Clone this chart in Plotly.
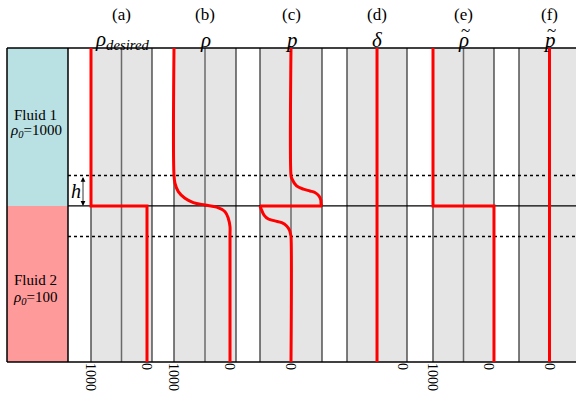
import plotly.graph_objects as go

# ---------------- data ----------------
Z_TOP, Z_BOT = 5.18, -5.12          # vertical extent (interface at 0, dotted lines at +/-h = +/-1)
H = 1.0

rho_desired_v = [1000, 1000, 0, 0]
rho_desired_z = [Z_TOP, 0.0, 0.0, Z_BOT]

rho_v = [1000, 1000, 982, 923, 804, 655, 446, 238, 89, 30, 0, 0, 0]
rho_z = [Z_TOP, 1.0, 0.74, 0.47, 0.25, 0.11, 0.03, -0.04, -0.19, -0.41, -0.68, -0.95, Z_BOT]

p_up_v = [0, 0, 0.02, 0.18, 0.40, 0.61, 0.77, 0.90, 0.96, 0.97, 1.0]
p_up_z = [Z_TOP, 1.0, 0.91, 0.66, 0.55, 0.49, 0.44, 0.33, 0.20, 0.07, 0.0]
p_mid_v = [1.0, -1.0]
p_mid_z = [0.0, 0.0]
p_lo_v = [-1.0, -0.95, -0.87, -0.73, -0.52, -0.30, -0.14, -0.05, -0.01, 0, 0]
p_lo_z = [0.0, -0.13, -0.30, -0.43, -0.49, -0.55, -0.66, -0.79, -0.95, -1.0, Z_BOT]

delta_v = [464, 464]
delta_z = [Z_TOP, Z_BOT]

rho_t_v = [1000, 1000, -89, -89]
rho_t_z = [Z_TOP, 0.0, 0.0, Z_BOT]

p_t_v = [0, 0]
p_t_z = [Z_TOP, Z_BOT]

letters = ["(a)", "(b)", "(c)", "(d)", "(e)", "(f)"]
symbols = ["<i>ρ<sub>desired</sub></i>", "<i>ρ</i>", "<i>p</i>", "<i>δ</i>",
           "<i>ρ</i>", "<i>p</i>"]
has_tilde = [False, False, False, False, True, True]
tick_vals = [[1000, 0], [1000, 0], [0], [0], [1000, 0], [0]]
tick_text = [["1000", "0"], ["1000", "0"], ["0"], ["0"], ["1000", "0"], ["0"]]

# ---------------- layout geometry (pixels) ----------------
W, HGT = 576, 397
ML, MR, MT, MB = 7, 0, 48, 35
PW = W - ML - MR
PH = HGT - MT - MB


def px(x):
    return (x - ML) / PW


def py(y):
    return (HGT - MB - y) / PH


# gray panel left/right pixel edges, value at left edge, value change per pixel
panels = [
    dict(L=91, R=152, v0=1000, dv=-1000 / 56),
    dict(L=174, R=236, v0=1000, dv=-1000 / 56),
    dict(L=260, R=322, v0=-1.0, dv=2 / 62),
    dict(L=347, R=407, v0=1000, dv=-1000 / 56),
    dict(L=433, R=494, v0=1000, dv=-1000 / 56),
    dict(L=519, R=580, v0=-1.0, dv=2 / 61),
]

series = [
    [(rho_desired_v, rho_desired_z, "linear")],
    [(rho_v, rho_z, "spline")],
    [(p_up_v, p_up_z, "spline"), (p_mid_v, p_mid_z, "linear"), (p_lo_v, p_lo_z, "spline")],
    [(delta_v, delta_z, "linear")],
    [(rho_t_v, rho_t_z, "linear")],
    [(p_t_v, p_t_z, "linear")],
]

fig = go.Figure()
SERIF = "Liberation Serif, Times New Roman, serif"
shapes = []
annotations = []
layout_axes = {}

for i, (pn, ser) in enumerate(zip(panels, series)):
    ax_name = "x" if i == 0 else f"x{i+1}"
    key = "xaxis" if i == 0 else f"xaxis{i+1}"
    dL = pn["L"] - 6
    dR = min(pn["R"] + 6, W - MR)
    rng = [pn["v0"] + (dL - pn["L"]) * pn["dv"], pn["v0"] + (dR - pn["L"]) * pn["dv"]]
    layout_axes[key] = dict(
        domain=[px(dL), px(dR)], range=rng, anchor="y",
        showgrid=False, zeroline=False, showline=False, ticks="",
        tickmode="array", tickvals=tick_vals[i], ticktext=tick_text[i],
        tickangle=90, tickfont=dict(family=SERIF, size=14, color="black"),
        fixedrange=True, automargin=False,
    )
    for v, z, shp in ser:
        fig.add_trace(go.Scatter(
            x=v, y=z, xaxis=ax_name, yaxis="y", mode="lines",
            line=dict(color="#FF0000", width=3, shape=shp, smoothing=1),
            showlegend=False, hoverinfo="skip"))

    # gray panel + its lines
    shapes.append(dict(type="rect", xref="paper", yref="paper", x0=px(pn["L"]), x1=px(min(pn["R"], W)),
                       y0=0, y1=1, fillcolor="#E5E5E5", line=dict(width=0), layer="below"))
    cx = (pn["L"] + pn["R"]) / 2
    shapes.append(dict(type="line", xref="paper", yref="paper", x0=px(cx), x1=px(cx), y0=0, y1=1,
                       line=dict(color="#6a6a6a", width=1.5), layer="below"))
    for e in (pn["L"], pn["R"]):
        if e <= W:
            shapes.append(dict(type="line", xref="paper", yref="paper", x0=px(e), x1=px(e), y0=0, y1=1,
                               line=dict(color="#3a3a3a", width=1.3), layer="below"))
    annotations.append(dict(xref="paper", yref="paper", x=px(cx), y=py(15), text=letters[i],
                            showarrow=False, font=dict(family=SERIF, size=17, color="black"),
                            xanchor="center", yanchor="middle"))
    annotations.append(dict(xref="paper", yref="paper", x=px(cx), y=py(40), text=symbols[i],
                            showarrow=False, font=dict(family=SERIF, size=21, color="black"),
                            xanchor="center", yanchor="middle"))
    if has_tilde[i]:
        annotations.append(dict(xref="paper", yref="paper", x=px(cx + 2), y=py(30), text="~",
                                showarrow=False, font=dict(family=SERIF, size=17, color="black"),
                                xanchor="center", yanchor="middle"))

# fluid boxes
shapes.append(dict(type="rect", xref="paper", yref="y", x0=px(7), x1=px(68), y0=0, y1=Z_TOP,
                   fillcolor="#B9E0E2", line=dict(width=0), layer="below"))
shapes.append(dict(type="rect", xref="paper", yref="y", x0=px(7), x1=px(68), y0=Z_BOT, y1=0,
                   fillcolor="#FF9A9A", line=dict(width=0), layer="below"))
for xx in (7, 68):
    shapes.append(dict(type="line", xref="paper", yref="paper", x0=px(xx), x1=px(xx), y0=0, y1=1,
                       line=dict(color="black", width=1.5), layer="below"))
# horizontal lines
for yy in (0, 1):
    shapes.append(dict(type="line", xref="paper", yref="paper", x0=px(7), x1=1, y0=yy, y1=yy,
                       line=dict(color="black", width=1.5), layer="below"))
shapes.append(dict(type="line", xref="paper", yref="y", x0=px(68), x1=1, y0=0, y1=0,
                   line=dict(color="black", width=1.3), layer="below"))
for zz in (H, -H):
    shapes.append(dict(type="line", xref="paper", yref="y", x0=px(68), x1=1, y0=zz, y1=zz,
                       line=dict(color="black", width=1.5, dash="dot"), layer="below"))

# fluid labels
annotations += [
    dict(xref="paper", yref="paper", x=px(35), y=py(115), text="Fluid 1", showarrow=False,
         xanchor="center", yanchor="middle", font=dict(family=SERIF, size=15, color="black")),
    dict(xref="paper", yref="paper", x=px(36), y=py(131), text="<i>ρ<sub>0</sub></i>=1000", showarrow=False,
         xanchor="center", yanchor="middle", font=dict(family=SERIF, size=15, color="black")),
    dict(xref="paper", yref="paper", x=px(35), y=py(280), text="Fluid 2", showarrow=False,
         xanchor="center", yanchor="middle", font=dict(family=SERIF, size=15, color="black")),
    dict(xref="paper", yref="paper", x=px(35), y=py(298), text="<i>ρ<sub>0</sub></i>=100", showarrow=False,
         xanchor="center", yanchor="middle", font=dict(family=SERIF, size=15, color="black")),
    # h marker
    dict(xref="paper", yref="y", x=px(83), y=0, ax=0, ay=-30.5, axref="pixel", ayref="pixel",
         text="", showarrow=True, arrowhead=2, arrowside="end+start", arrowsize=1.2,
         arrowwidth=0.8, arrowcolor="black", standoff=0, startstandoff=0),
    dict(xref="paper", yref="y", x=px(76), y=H / 2, text="<i>h</i>", showarrow=False,
         xanchor="center", yanchor="middle", font=dict(family=SERIF, size=20, color="black")),
]

fig.update_layout(
    width=W, height=HGT,
    margin=dict(l=ML, r=MR, t=MT, b=MB, autoexpand=False),
    paper_bgcolor="white", plot_bgcolor="rgba(0,0,0,0)",
    yaxis=dict(domain=[0, 1], range=[Z_BOT, Z_TOP], showgrid=False, zeroline=False,
               showticklabels=False, showline=False, ticks="", anchor="x", fixedrange=True),
    shapes=shapes, annotations=annotations, showlegend=False,
    **layout_axes,
)

fig.write_html("out.html", config={"displayModeBar": False, "staticPlot": True},
               post_script="document.body.style.margin='0';document.body.style.overflow='hidden';")
